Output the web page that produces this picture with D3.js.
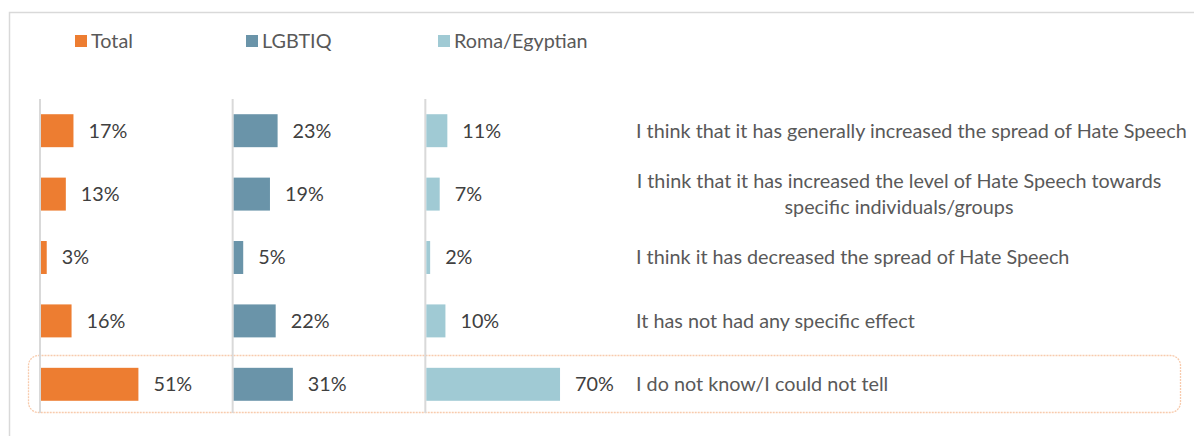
<!DOCTYPE html>
<html>
<head>
<meta charset="utf-8">
<script src="https://cdn.jsdelivr.net/npm/d3@7"></script>
<style>
  body { margin: 0; background: #fff; }
  svg { display: block; font-family: Lato, "Open Sans", sans-serif; }
</style>
</head>
<body>
<svg id="chart" width="1194" height="436"></svg>
<script>
const series = ["Total", "LGBTIQ", "Roma/Egyptian"];
const categories = [
  ["I think that it has generally increased the spread of Hate Speech"],
  ["I think that it has increased the level of Hate Speech towards", "specific individuals/groups"],
  ["I think it has decreased the spread of Hate Speech"],
  ["It has not had any specific effect"],
  ["I do not know/I could not tell"]
];
const totalValues = [17, 13, 3, 16, 51];
const lgbtiqValues = [23, 19, 5, 22, 31];
const romaValues = [11, 7, 2, 10, 70];
const colors = ["#ED7D31", "#6A94A9", "#A0CAD4"];

const valuesBySeries = [totalValues, lgbtiqValues, romaValues];
const svg = d3.select("#chart");
const fs = 19.8;

// outer chart frame (runs off the right/bottom edge)
svg.append("rect")
  .attr("x", 9.5).attr("y", 12.5)
  .attr("width", 1300).attr("height", 500)
  .attr("fill", "none").attr("stroke", "#d9d9d9").attr("stroke-width", 1.5);

// legend
const legendX = [75, 246, 438];
const legend = svg.selectAll(".legend")
  .data(series)
  .enter()
  .append("g")
  .attr("transform", (d, i) => `translate(${legendX[i]},35)`);
legend.append("rect")
  .attr("width", 12).attr("height", 12)
  .attr("fill", (d, i) => colors[i]);
legend.append("text")
  .attr("x", 16).attr("y", 6)
  .attr("dy", "0.35em")
  .attr("font-size", fs).attr("fill", "#595959")
  .text((d) => d);

const y = d3.scaleBand()
  .domain(d3.range(categories.length))
  .range([99, 416])
  .paddingInner(0.48)
  .paddingOuter(0.24);

const panelX = d3.scaleBand().domain(series).range([40, 618]);
const x = d3.scaleLinear().domain([0, 100]).range([0, 191]);

// highlight box around the last row
svg.append("rect")
  .attr("x", 28.5).attr("y", 355.5)
  .attr("width", 1152).attr("height", 57)
  .attr("rx", 10).attr("ry", 10)
  .attr("fill", "none")
  .attr("stroke", "#F8CBAD").attr("stroke-width", 1.3)
  .attr("stroke-dasharray", "2,1");

series.forEach((s, si) => {
  const g = svg.append("g").attr("transform", `translate(${panelX(s)},0)`);
  g.append("line")
    .attr("x1", 0).attr("x2", 0)
    .attr("y1", 99).attr("y2", 413)
    .attr("stroke", "#d9d9d9").attr("stroke-width", 2);
  g.selectAll("rect.bar")
    .data(valuesBySeries[si])
    .enter()
    .append("rect")
    .attr("class", "bar")
    .attr("x", 1)
    .attr("y", (d, i) => y(i))
    .attr("width", (d) => x(d))
    .attr("height", y.bandwidth())
    .attr("fill", colors[si]);
  g.selectAll("text.val")
    .data(valuesBySeries[si])
    .enter()
    .append("text")
    .attr("class", "val")
    .attr("x", (d) => 1 + x(d) + 15)
    .attr("y", (d, i) => y(i) + y.bandwidth() / 2)
    .attr("dy", "0.35em")
    .attr("font-size", fs)
    .attr("fill", "#404040")
    .text((d) => d + "%");
});

// category labels
const labels = svg.selectAll(".cat")
  .data(categories)
  .enter()
  .append("text")
  .attr("class", "cat")
  .attr("font-size", fs)
  .attr("fill", "#595959");
labels.each(function (lines, i) {
  const t = d3.select(this);
  const cy = y(i) + y.bandwidth() / 2;
  if (lines.length === 1) {
    t.append("tspan").attr("x", 636).attr("y", cy).attr("dy", "0.35em").text(lines[0]);
  } else {
    t.attr("text-anchor", "middle");
    lines.forEach((l, k) => {
      t.append("tspan")
        .attr("x", 899)
        .attr("y", cy + (k - 0.5) * 26)
        .attr("dy", "0.35em")
        .text(l);
    });
  }
});
</script>
</body>
</html>
